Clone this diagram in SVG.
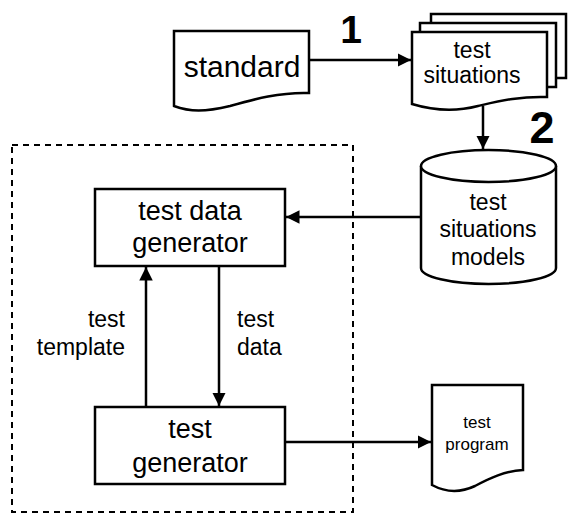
<svg xmlns="http://www.w3.org/2000/svg" width="568" height="514" viewBox="0 0 568 514">
<style>
.s{fill:#fff;stroke:#000;stroke-width:2.5;stroke-linejoin:miter}
.t{font-family:"Liberation Sans",Arial,sans-serif;fill:#000;text-anchor:middle}
.c{fill:none;stroke:#000;stroke-width:2.5}
.b{font-family:"Liberation Sans",Arial,sans-serif;font-weight:bold;fill:#000}
</style>
<defs>
<marker id="ah" viewBox="0 0 10 10" refX="10" refY="5" markerWidth="5.4" markerHeight="5.4" orient="auto" markerUnits="strokeWidth">
<path d="M0,0 L10,5 L0,10 Z" fill="#000"/>
</marker>
</defs>
<rect width="568" height="514" fill="#fff"/>
<rect x="12" y="145" width="341" height="367" fill="none" stroke="#000" stroke-width="2" stroke-dasharray="6,5"/>
<g id="standard">
<path class="s" d="M174,31 H309 V93 C280,92 255,99 230,106 C205,112 190,112 174,106 Z"/>
<text class="t" x="242" y="77" font-size="30">standard</text>
</g>
<g id="test-situations">
<path class="s" d="M431,14 H566 V78 H431 Z"/>
<path class="s" d="M420,23 H556 V87 H420 Z"/>
<path class="s" d="M412,32 H547 V97 C520,96 500,101 478,106 C455,112 435,111 412,104 Z"/>
<text class="t" x="472" y="58" font-size="23">test</text>
<text class="t" x="472" y="83" font-size="23">situations</text>
</g>
<g id="models">
<path class="s" d="M421,166 V268 A67.5,16 0 0 0 556,268 V166"/>
<ellipse class="s" cx="488.5" cy="166" rx="67.5" ry="16"/>
<text class="t" x="488" y="210" font-size="23">test</text>
<text class="t" x="488" y="237" font-size="23">situations</text>
<text class="t" x="488" y="265" font-size="23">models</text>
</g>
<g id="tdg">
<rect class="s" x="95" y="189" width="190" height="77"/>
<text class="t" x="190" y="220" font-size="27">test data</text>
<text class="t" x="190" y="252" font-size="27">generator</text>
</g>
<g id="tg">
<rect class="s" x="95" y="407" width="190" height="77"/>
<text class="t" x="190" y="438" font-size="27">test</text>
<text class="t" x="190" y="472" font-size="27">generator</text>
</g>
<g id="program">
<path class="s" d="M432,385 H523 V470 C505,471 490,478 475,486 C460,493 445,492 432,485 Z"/>
<text class="t" x="477" y="428" font-size="17">test</text>
<text class="t" x="477" y="450" font-size="17">program</text>
</g>
<g id="connectors">
<line class="c" x1="309" y1="60" x2="411" y2="60" marker-end="url(#ah)"/>
<line class="c" x1="483" y1="106" x2="483" y2="149" marker-end="url(#ah)"/>
<line class="c" x1="421" y1="217" x2="286" y2="217" marker-end="url(#ah)"/>
<line class="c" x1="146" y1="407" x2="146" y2="267" marker-end="url(#ah)"/>
<line class="c" x1="219" y1="266" x2="219" y2="406" marker-end="url(#ah)"/>
<line class="c" x1="285" y1="442" x2="431" y2="442" marker-end="url(#ah)"/>
<text class="b" x="351" y="43" font-size="39" text-anchor="middle">1</text>
<text class="b" x="542" y="143" font-size="45" text-anchor="middle">2</text>
<text class="t" x="125" y="327" font-size="23" style="text-anchor:end">test</text>
<text class="t" x="125" y="355" font-size="23" style="text-anchor:end">template</text>
<text class="t" x="237" y="327" font-size="23" style="text-anchor:start">test</text>
<text class="t" x="237" y="355" font-size="23" style="text-anchor:start">data</text>
</g>
</svg>
